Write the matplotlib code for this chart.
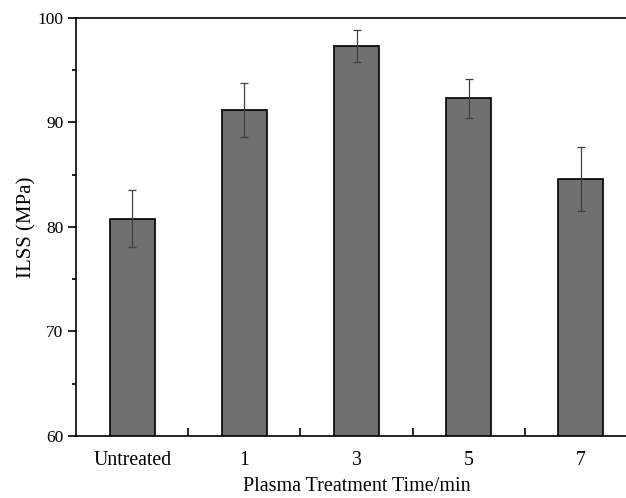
import matplotlib
matplotlib.use("Agg")
import matplotlib.pyplot as plt
from matplotlib.ticker import MultipleLocator, FixedLocator

categories = ["Untreated", "1", "3", "5", "7"]
ilss = [80.8, 91.2, 97.3, 92.3, 84.6]
ilss_err = [2.7, 2.55, 1.55, 1.85, 3.1]

plt.rcParams['font.family'] = ['Liberation Serif', 'DejaVu Serif']

fig = plt.figure(figsize=(6.26, 4.98), dpi=100)
ax = fig.add_axes([76/626, 62/498, 561/626, 418/498])

x = list(range(len(categories)))
ax.bar(x, ilss, width=0.4, color="#707070", edgecolor="black", linewidth=1.2,
       yerr=ilss_err, capsize=3.2,
       error_kw=dict(ecolor="#404040", elinewidth=0.9, capthick=0.9), zorder=2)

ax.set_xlim(-0.5, len(categories) - 0.5)
ax.set_ylim(60, 100)

ax.set_xticks(x)
ax.set_xticklabels(categories, fontsize=14.2)
ax.xaxis.set_minor_locator(FixedLocator([i + 0.5 for i in range(len(categories) - 1)]))
ax.tick_params(axis="x", which="major", length=0, pad=11)
ax.tick_params(axis="x", which="minor", direction="in", length=6, width=1.2)

ax.yaxis.set_major_locator(MultipleLocator(10))
ax.yaxis.set_minor_locator(MultipleLocator(5))
ax.tick_params(axis="y", which="major", direction="out", length=6, width=1.2, labelsize=12.5, pad=3)
ax.tick_params(axis="y", which="minor", direction="out", length=3, width=1.2)

for s in ax.spines.values():
    s.set_linewidth(1.2)

ax.set_xlabel("Plasma Treatment Time/min", fontsize=14.5, labelpad=5)
ax.set_ylabel("ILSS (MPa)", fontsize=15, labelpad=1)

fig.savefig("out.png", dpi=100)
